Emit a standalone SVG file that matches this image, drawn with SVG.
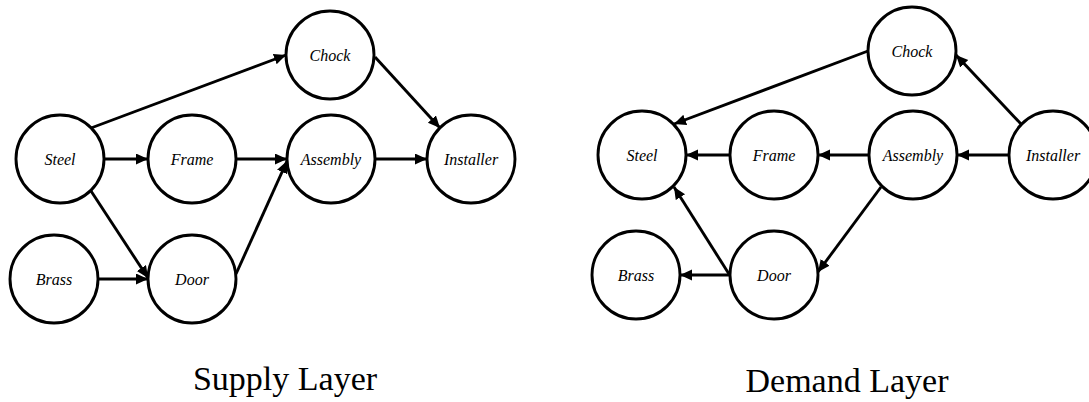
<svg xmlns="http://www.w3.org/2000/svg" width="1089" height="402" viewBox="0 0 1089 402">
<defs>
<marker id="ah" markerUnits="userSpaceOnUse" markerWidth="13" markerHeight="12" refX="12" refY="5.5" orient="auto">
<path d="M0,0 L12,5.5 L0,11 z" fill="#000"/>
</marker>
<style>
.n{fill:#fff;stroke:#000;stroke-width:2.9}
.t{font-family:"Liberation Serif","Times New Roman",serif;font-style:italic;font-size:16px;text-anchor:middle;fill:#000}
.e{stroke:#000;stroke-width:2.9;fill:none;marker-end:url(#ah)}
.lbl{font-family:"Liberation Serif","Times New Roman",serif;font-size:34px;text-anchor:middle;fill:#000}
</style>
</defs>
<rect width="1089" height="402" fill="#fff"/>
<g id="connectors">
<line class="e" x1="91" y1="128" x2="286" y2="55"/>
<line class="e" x1="104" y1="159" x2="148" y2="159"/>
<line class="e" x1="91" y1="191" x2="148" y2="278"/>
<line class="e" x1="98" y1="279" x2="148" y2="279"/>
<line class="e" x1="236" y1="159" x2="287" y2="159"/>
<line class="e" x1="236" y1="274" x2="287" y2="161"/>
<line class="e" x1="375" y1="159" x2="427" y2="159"/>
<line class="e" x1="375" y1="57" x2="440" y2="128"/>
<line class="e" x1="868" y1="51" x2="674" y2="124"/>
<line class="e" x1="730" y1="155" x2="686" y2="155"/>
<line class="e" x1="869" y1="155" x2="818" y2="155"/>
<line class="e" x1="1009" y1="155" x2="957" y2="155"/>
<line class="e" x1="1021" y1="124" x2="956" y2="55"/>
<line class="e" x1="881" y1="187" x2="818" y2="272"/>
<line class="e" x1="729" y1="274" x2="674" y2="187"/>
<line class="e" x1="730" y1="275" x2="680" y2="275"/>
</g>
<g id="s-steel"><circle class="n" cx="60" cy="159" r="44"/><text class="t" x="60" y="164.5">Steel</text></g>
<g id="s-frame"><circle class="n" cx="192" cy="159" r="44"/><text class="t" x="192" y="164.5">Frame</text></g>
<g id="s-assembly"><circle class="n" cx="331" cy="159" r="44"/><text class="t" x="331" y="164.5">Assembly</text></g>
<g id="s-installer"><circle class="n" cx="471" cy="159" r="44"/><text class="t" x="471" y="164.5">Installer</text></g>
<g id="s-chock"><circle class="n" cx="330" cy="55" r="44"/><text class="t" x="330" y="60.5">Chock</text></g>
<g id="s-brass"><circle class="n" cx="54" cy="279" r="44"/><text class="t" x="54" y="284.5">Brass</text></g>
<g id="s-door"><circle class="n" cx="192" cy="279" r="44"/><text class="t" x="192" y="284.5">Door</text></g>
<g id="d-steel"><circle class="n" cx="642" cy="155" r="44"/><text class="t" x="642" y="160.5">Steel</text></g>
<g id="d-frame"><circle class="n" cx="774" cy="155" r="44"/><text class="t" x="774" y="160.5">Frame</text></g>
<g id="d-assembly"><circle class="n" cx="913" cy="155" r="44"/><text class="t" x="913" y="160.5">Assembly</text></g>
<g id="d-installer"><circle class="n" cx="1053" cy="155" r="44"/><text class="t" x="1053" y="160.5">Installer</text></g>
<g id="d-chock"><circle class="n" cx="912" cy="51" r="44"/><text class="t" x="912" y="56.5">Chock</text></g>
<g id="d-brass"><circle class="n" cx="636" cy="275" r="44"/><text class="t" x="636" y="280.5">Brass</text></g>
<g id="d-door"><circle class="n" cx="774" cy="275" r="44"/><text class="t" x="774" y="280.5">Door</text></g>
<text class="lbl" x="285" y="390">Supply Layer</text>
<text class="lbl" x="847" y="392">Demand Layer</text>
</svg>
